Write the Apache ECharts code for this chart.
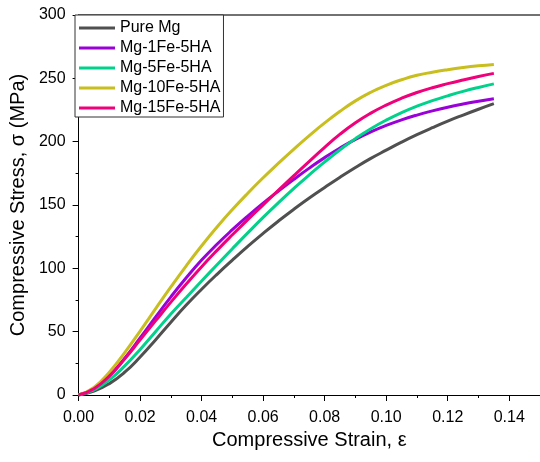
<!DOCTYPE html>
<html>
<head>
<meta charset="utf-8">
<script src="https://cdn.jsdelivr.net/npm/echarts@6/dist/echarts.min.js"></script>
<style>html,body{margin:0;padding:0;background:#fff}#c{width:540px;height:462px}</style>
</head>
<body>
<div id="c"></div>
<script>
const strain = [0,0.005,0.01,0.015,0.02,0.025,0.03,0.035,0.04,0.045,0.05,0.055,0.06,0.065,0.07,0.075,0.08,0.085,0.09,0.095,0.10,0.105,0.11,0.115,0.12,0.125,0.13,0.135];
const seriesNames = ['Pure Mg','Mg-1Fe-5HA','Mg-5Fe-5HA','Mg-10Fe-5HA','Mg-15Fe-5HA'];
const pureMg = [0,3,9,18,30,43.5,57.5,71,83.5,95.3,106.5,117.3,127.6,137.4,146.7,155.5,163.8,171.9,179.6,186.8,193.3,199.6,205.5,211,216.2,221,225.6,230];
const mg1Fe  = [0,5,15,29,45,61.5,77.5,92.5,106.5,119,130.5,141.3,151.5,161.1,170.3,179.1,187.4,195,201.8,207.7,212.8,217.2,221,224.3,227.2,229.7,231.9,233.9];
const mg5Fe  = [0,4,12,23,36,50,64,77,90,102.8,115.5,128,140.2,151.9,163.1,173.8,184,193.6,202.4,210.2,217,222.9,228,232.4,236.2,239.7,242.8,245.6];
const mg10Fe = [0,6,18,33.5,50.5,68,85.3,102,117.8,132.6,146.4,159.3,171.5,183.1,194.2,204.8,214.8,224,232.2,239,244.5,248.9,252.4,254.8,256.8,258.5,259.9,261];
const mg15Fe = [0,5,15,28.5,43.5,58.5,73.3,87.6,101.3,114.2,126.5,138.4,150.1,161.7,173.2,184.5,195.5,205.9,214.9,222.5,228.9,234.3,238.8,242.6,245.8,248.7,251.4,253.9];
const xTicks = [0,0.02,0.04,0.06,0.08,0.10,0.12,0.14];
const yTicks = [0,50,100,150,200,250,300];
const colors = ['#505050','#9a00d8','#00d28c','#c8be1e','#f0007a'];
const values = [pureMg, mg1Fe, mg5Fe, mg10Fe, mg15Fe];

const chart = echarts.init(document.getElementById('c'), null, {renderer:'canvas'});
const font = 'Arial, "Liberation Sans", sans-serif';
chart.setOption({
  animation:false,
  backgroundColor:'#fff',
  grid:{left:75, top:15, width:474, height:380, containLabel:false},
  legend:{
    orient:'vertical', left:75, top:15,
    icon:'rect', itemWidth:36, itemHeight:3, itemGap:4,
    padding:[5,3,1,4],
    borderColor:'#333', borderWidth:1, backgroundColor:'#fff',
    textStyle:{fontFamily:font, fontSize:16, color:'#000', lineHeight:16},
    data:seriesNames
  },
  xAxis:[{
    type:'value', min:0, max:0.15, interval:0.02,
    axisLine:{show:true, lineStyle:{color:'#000', width:1}},
    axisTick:{show:true, length:6, inside:false, lineStyle:{color:'#000'}},
    minorTick:{show:true, splitNumber:2, length:3, lineStyle:{color:'#000'}},
    splitLine:{show:false},
    axisLabel:{fontFamily:font, fontSize:16, color:'#000', margin:15, showMaxLabel:false,
      formatter:function(v){ return xTicks.indexOf(Math.round(v*100)/100) >= 0 ? v.toFixed(2) : ''; }},
    name:'Compressive Strain, \u03b5', nameLocation:'middle', nameGap:35,
    nameTextStyle:{fontFamily:font, fontSize:20, color:'#000'}
  },{
    type:'value', position:'top', min:0, max:0.15,
    axisLine:{show:true, lineStyle:{color:'#444', width:1.5}},
    axisTick:{show:false}, axisLabel:{show:false}, splitLine:{show:false}
  }],
  yAxis:{
    type:'value', min:0, max:300, interval:50,
    axisLine:{show:true, lineStyle:{color:'#000', width:1}},
    axisTick:{show:true, length:6, lineStyle:{color:'#000'}},
    minorTick:{show:true, splitNumber:2, length:3, lineStyle:{color:'#000'}},
    splitLine:{show:false},
    axisLabel:{fontFamily:font, fontSize:16, color:'#000', margin:13,
      formatter:function(v){ return yTicks.indexOf(v) >= 0 ? String(v) : ''; }},
    name:'Compressive Stress, \u03c3 (MPa)', nameLocation:'middle', nameGap:40,
    nameTextStyle:{fontFamily:font, fontSize:20, color:'#000'}
  },
  series: seriesNames.map(function(n,i){
    return {
      name:n, type:'line', smooth:true, symbol:'none', showSymbol:false,
      color:colors[i],
      lineStyle:{width:3, color:colors[i]},
      data: strain.map(function(s,j){ return [s, values[i][j]]; })
    };
  })
});
</script>
</body>
</html>
